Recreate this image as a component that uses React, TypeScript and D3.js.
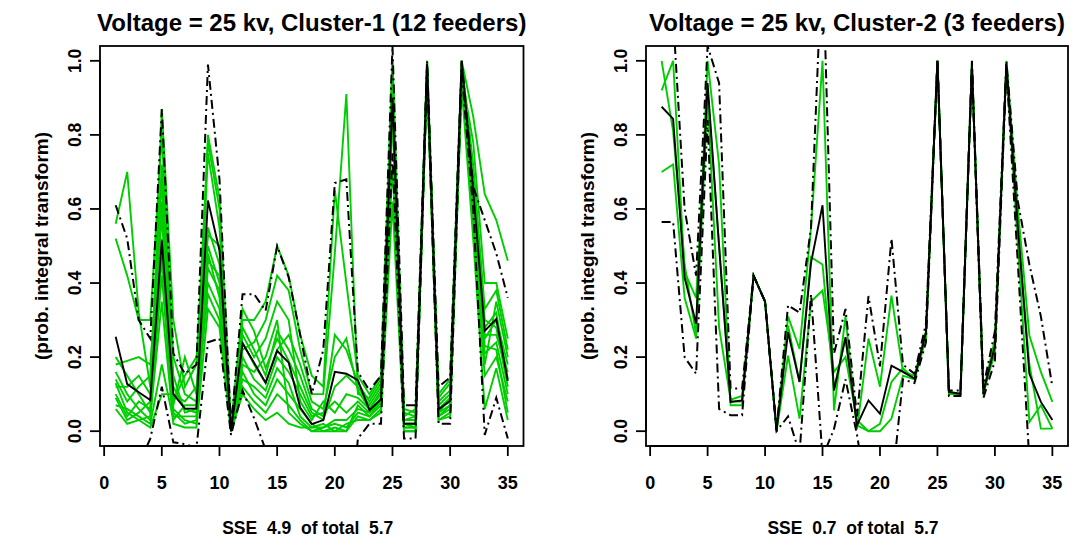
import React from 'react';
import * as d3 from 'd3';

// hour-of-profile index on the x axis
const positions = [1, 2, 3, 4, 5, 6, 7, 8, 9, 10, 11, 12, 13, 14, 15, 16, 17, 18, 19, 20,
  21, 22, 23, 24, 25, 26, 27, 28, 29, 30, 31, 32, 33, 34, 35];
const xTicks = [0, 5, 10, 15, 20, 25, 30, 35];
const yTicks = [0, 0.2, 0.4, 0.6, 0.8, 1.0];

// ---- cluster 1: 12 feeders ----
const c1Feeders = [
  [.56, .70, .32, .12, .62, .12, .06, .05, .55, .45, .01, .33, .27, .17, .25, .19, .12, .05, .03, .12, .15, .12, .07, .12, .98, .03, .03, .99, .06, .09, .99, .66, .28, .32, .14],
  [.52, .42, .30, .30, .80, .20, .10, .08, .80, .63, 0, .20, .14, .11, .20, .16, .10, .04, .05, .08, .05, .08, .05, .09, 1.0, .02, .02, 1.0, .05, .07, 1.0, .85, .64, .57, .46],
  [.20, .15, .10, .05, .87, .30, .12, .18, .78, .60, .02, .28, .22, .15, .27, .22, .15, .06, .04, .26, .22, .13, .08, .13, .92, .06, .05, .98, .08, .11, .98, .62, .25, .30, .18],
  [.18, .19, .20, .18, .58, .08, .15, .20, .50, .40, 0, .12, .08, .05, .10, .07, .03, 0, .01, .02, .01, .05, .04, .07, .88, .01, .01, .97, .04, .06, .97, .58, .21, .24, .10],
  [.16, .10, .06, .03, .47, .05, .02, .03, .44, .38, .01, .30, .30, .35, .50, .42, .26, .15, .12, .65, .40, .15, .10, .15, .95, .04, .06, 1.0, .10, .14, 1.0, .70, .30, .28, .12],
  [.14, .08, .12, .15, .72, .15, .05, .06, .75, .55, 0, .24, .18, .13, .22, .26, .18, .08, .06, .20, .25, .11, .06, .10, 1.0, .03, .04, .99, .07, .10, .99, .72, .33, .38, .22],
  [.13, .05, .03, .01, .10, .10, .08, .12, .40, .33, .01, .16, .10, .07, .14, .10, .06, .02, 0, .01, 0, .04, .03, .06, .72, 0, 0, .96, .03, .05, .95, .55, .15, .20, .08],
  [.12, .12, .15, .10, .68, .07, .20, .10, .53, .50, 0, .22, .24, .30, .42, .38, .22, .10, .10, .48, .91, .10, .09, .14, .96, .05, .04, .98, .09, .13, .98, .68, .26, .26, .16],
  [.10, .04, .08, .06, .42, .04, .04, .04, .46, .42, 0, .10, .06, .03, .05, .02, .01, .01, .02, 0, .02, .03, .03, .05, .62, 0, 0, .95, .03, .04, .93, .52, .06, .17, .03],
  [.09, .03, .05, .08, .52, .06, .03, .02, .48, .36, .01, .26, .20, .25, .35, .30, .08, .03, .08, .05, .10, .09, .06, .11, .93, .02, .02, .97, .06, .08, .97, .64, .23, .22, .05],
  [.07, .06, .04, .02, .18, .03, .07, .07, .37, .30, 0, .14, .12, .09, .17, .13, .04, .01, .01, .03, .03, .06, .05, .08, .85, .01, .01, .96, .04, .07, .94, .60, .18, .35, .20],
  [.06, .02, .03, .04, .35, .02, .01, .01, .33, .28, 0, .18, .16, .20, .30, .05, .02, 0, 0, 0, 0, .07, .04, .08, .90, .02, .01, .98, .05, .09, .96, .78, .40, .40, .25],
];
const c1Mean = [.255, .127, .105, .084, .515, .10, .061, .061, .623, .488, 0, .237, .185, .131, .217, .185, .064, .019, .03, .16, .155, .138, .057, .086, .90, .02, .02, .99, .059, .082, 1.0, .65, .271, .303, .136];
const c1Upper = [.61, .52, .30, .25, .87, .21, .155, .18, .99, .68, .01, .37, .37, .325, .50, .415, .26, .10, .22, .67, .68, .16, .11, .15, 1.04, .07, .07, 1.0, .12, .145, 1.0, .66, .57, .48, .36];
const c1Lower = [-.10, -.27, -.09, -.02, .12, -.03, -.035, -.045, .24, .25, -.01, .11, .035, -.05, -.07, -.05, -.13, -.06, -.16, -.35, -.37, -.02, .02, .02, .75, -.02, -.02, .97, .02, .02, .97, .60, -.01, .09, -.02];

// ---- cluster 2: 3 feeders ----
const c2Feeders = [
  [1.0, .81, .45, .26, 1.0, .72, .07, .07, .42, .35, 0, .31, .222, .55, 1.0, .056, .31, .005, .25, .12, .366, .16, .15, .267, 1.0, .10, .10, .99, .097, .23, 1.0, .60, .258, .16, .079],
  [.92, 1.0, .43, .36, .92, .50, .08, .08, .42, .35, 0, .285, .133, .47, .45, .115, .25, .016, 0, .02, .133, .17, .14, .27, 1.0, .10, .10, .99, .106, .25, .99, .55, .18, .007, .007],
  [.70, .72, .36, .25, .90, .28, .085, .095, .42, .35, 0, .204, .034, .35, .38, .16, .20, .03, 0, 0, .034, .15, .14, .25, 1.0, .105, .10, .99, .11, .21, .99, .50, .025, .07, .007],
];
const c2Mean = [.876, .843, .415, .29, .94, .50, .079, .083, .42, .35, .003, .267, .133, .455, .61, .11, .254, .016, .083, .047, .177, .16, .142, .267, 1.0, .106, .101, .99, .106, .23, .99, .55, .155, .079, .03];
const c2Upper = [1.19, 1.12, .60, .42, 1.04, .94, .115, .115, .42, .35, .005, .34, .32, .55, 1.30, .21, .33, .04, .365, .175, .52, .18, .155, .29, 1.0, .11, .11, 1.0, .12, .27, 1.0, .62, .45, .31, .12];
const c2Lower = [.565, .565, .20, .155, .84, .06, .043, .043, .42, .35, 0, .04, -.06, .37, -.07, .006, .14, -.01, -.20, -.08, -.16, .14, .13, .24, 1.0, .095, .095, .98, .09, .19, .98, .45, -.08, -.15, -.06];

const FONT = '"Liberation Sans", Arial, Helvetica, sans-serif';
const TOP = 46;
const BOTTOM = 446;

interface PanelProps {
  id: string;
  left: number;
  right: number;
  title: string;
  xlabel: string;
  feeders: number[][];
  mean: number[];
  upper: number[];
  lower: number[];
}

const Panel: React.FC<PanelProps> = ({ id, left, right, title, xlabel, feeders, mean, upper, lower }) => {
  const x = d3.scaleLinear().domain([-0.36, 36.36]).range([left, right]);
  const y = d3.scaleLinear().domain([-0.04, 1.04]).range([BOTTOM, TOP]);
  const line = d3.line<number>()
    .x((_, i) => x(positions[i]))
    .y(d => y(d));
  const cx = (left + right) / 2;
  const cy = (TOP + BOTTOM) / 2;
  const dash = '9,4,2,4';

  return (
    <g>
      <defs>
        <clipPath id={id}>
          <rect x={left} y={TOP} width={right - left} height={BOTTOM - TOP} />
        </clipPath>
      </defs>
      <g clipPath={`url(#${id})`} fill="none" strokeLinejoin="miter">
        {feeders.map((f, k) => (
          <path key={k} d={line(f) ?? ''} stroke="#00cd00" strokeWidth={1.9} />
        ))}
        <path d={line(mean) ?? ''} stroke="#000" strokeWidth={1.9} />
        <path d={line(upper) ?? ''} stroke="#000" strokeWidth={2} strokeDasharray={dash} />
        <path d={line(lower) ?? ''} stroke="#000" strokeWidth={2} strokeDasharray={dash} />
      </g>
      <rect x={left} y={TOP} width={right - left} height={BOTTOM - TOP} fill="none" stroke="#000" strokeWidth={1.8} />

      {/* x axis */}
      <line x1={x(0)} x2={x(35)} y1={BOTTOM} y2={BOTTOM} stroke="#000" strokeWidth={1.8} />
      {xTicks.map(t => (
        <g key={t}>
          <line x1={x(t)} x2={x(t)} y1={BOTTOM} y2={BOTTOM + 10} stroke="#000" strokeWidth={1.8} />
          <text x={x(t)} y={489} textAnchor="middle" fontSize={18} fontWeight="bold" fontFamily={FONT}>{t}</text>
        </g>
      ))}

      {/* y axis */}
      <line x1={left} x2={left} y1={y(0)} y2={y(1)} stroke="#000" strokeWidth={1.8} />
      {yTicks.map(t => (
        <g key={t}>
          <line x1={left} x2={left - 10} y1={y(t)} y2={y(t)} stroke="#000" strokeWidth={1.8} />
          <text transform={`translate(${left - 19},${y(t)}) rotate(-90)`} textAnchor="middle"
            fontSize={17.5} fontWeight="bold" fontFamily={FONT}>{t.toFixed(1)}</text>
        </g>
      ))}

      <text x={cx} y={31} textAnchor="middle" fontSize={24} fontWeight="bold" fontFamily={FONT}>{title}</text>
      <text x={cx - 4} y={534} textAnchor="middle" fontSize={17.5} fontWeight="bold" fontFamily={FONT}
        xmlSpace="preserve" style={{ whiteSpace: 'pre' }}>{xlabel}</text>
      <text transform={`translate(${left - 52},${cy}) rotate(-90)`} textAnchor="middle"
        fontSize={19} fontWeight="bold" fontFamily={FONT}>(prob. integral transform)</text>
    </g>
  );
};

export default function App() {
  return (
    <div style={{ position: 'absolute', left: 0, top: 0, background: '#fff' }}>
      <svg width={1076} height={550} viewBox="0 0 1076 550" style={{ display: 'block' }}>
        <rect width={1076} height={550} fill="#fff" />
        <Panel id="clip1" left={100} right={523.5}
          title="Voltage = 25 kv, Cluster-1 (12 feeders)" xlabel="SSE  4.9  of total  5.7"
          feeders={c1Feeders} mean={c1Mean} upper={c1Upper} lower={c1Lower} />
        <Panel id="clip2" left={646} right={1068}
          title="Voltage = 25 kv, Cluster-2 (3 feeders)" xlabel="SSE  0.7  of total  5.7"
          feeders={c2Feeders} mean={c2Mean} upper={c2Upper} lower={c2Lower} />
      </svg>
    </div>
  );
}
